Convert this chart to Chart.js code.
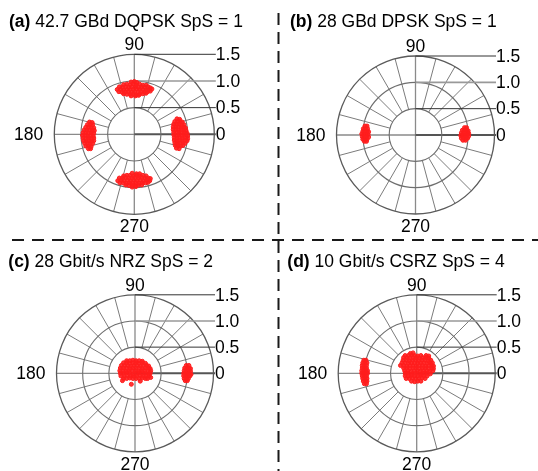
<!DOCTYPE html>
<html>
<head>
<meta charset="utf-8">
<script src="https://cdn.jsdelivr.net/npm/chart.js@4.4.1/dist/chart.umd.min.js"></script>
<style>
  body { margin: 0; background: #fff; }
  #wrap { position: relative; width: 538px; height: 471px; overflow: hidden; }
  #wrap svg, #wrap canvas { position: absolute; }
</style>
</head>
<body>
<div id="wrap">
  <svg width="538" height="471" style="left:0;top:0">
    <line x1="278.5" y1="13" x2="278.5" y2="471" stroke="#1a1a1a" stroke-width="2" stroke-dasharray="12 7"/>
    <line x1="12" y1="240" x2="538" y2="240" stroke="#1a1a1a" stroke-width="2" stroke-dasharray="12 8"/>
  </svg>
  <canvas id="pa" width="270" height="236" style="left:0;top:0"></canvas>
  <canvas id="pb" width="268" height="236" style="left:270px;top:0"></canvas>
  <canvas id="pc" width="270" height="235" style="left:0;top:236px"></canvas>
  <canvas id="pd" width="268" height="235" style="left:270px;top:236px"></canvas>
</div>
<script>
// panel labels
const tags = ['(a)', '(b)', '(c)', '(d)'];
const titles = ['42.7 GBd DQPSK SpS = 1', '28 GBd DPSK SpS = 1', '28 Gbit/s NRZ SpS = 2', '10 Gbit/s CSRZ SpS = 4'];

// polar axis ticks
const ringValues = [0.5, 1.0, 1.5];
const ringLabels = ['0.5', '1.0', '1.5'];
const angleLabels = ['0', '90', '180', '270'];

// received symbols, [I, Q] (amplitude units)
const dqpskTop = [
  [-0.06,0.98],[0.0,0.99],[0.05,0.97],
  [-0.20,0.93],[-0.14,0.94],[-0.08,0.93],[-0.02,0.95],[0.04,0.93],[0.10,0.94],[0.16,0.92],[0.22,0.92],
  [-0.28,0.89],[-0.22,0.88],[-0.16,0.89],[-0.10,0.88],[-0.04,0.89],[0.02,0.89],[0.08,0.88],[0.14,0.89],[0.20,0.88],[0.26,0.89],[0.30,0.87],
  [-0.32,0.84],[-0.26,0.84],[-0.20,0.83],[-0.14,0.84],[-0.08,0.84],[-0.02,0.84],[0.04,0.85],[0.10,0.84],[0.16,0.84],[0.22,0.83],[0.28,0.84],[0.33,0.85],
  [-0.29,0.80],[-0.23,0.79],[-0.17,0.79],[-0.11,0.80],[-0.05,0.79],[0.01,0.80],[0.07,0.79],[0.13,0.80],[0.19,0.79],[0.25,0.80],[0.30,0.81],
  [-0.20,0.76],[-0.14,0.75],[-0.08,0.75],[-0.02,0.75],[0.04,0.74],[0.10,0.75],[0.16,0.76],[0.22,0.77],
  [-0.06,0.72],[0.02,0.72],[0.08,0.73]
];
const dqpskBottom = [
  [-0.04,-0.73],[0.04,-0.74],[0.10,-0.74],
  [-0.20,-0.78],[-0.14,-0.77],[-0.08,-0.77],[-0.02,-0.78],[0.04,-0.77],[0.10,-0.78],[0.16,-0.77],[0.22,-0.78],
  [-0.28,-0.82],[-0.22,-0.82],[-0.16,-0.81],[-0.10,-0.82],[-0.04,-0.82],[0.02,-0.81],[0.08,-0.82],[0.14,-0.81],[0.20,-0.82],[0.26,-0.82],[0.30,-0.83],
  [-0.31,-0.87],[-0.25,-0.86],[-0.19,-0.87],[-0.13,-0.86],[-0.07,-0.87],[-0.01,-0.86],[0.05,-0.87],[0.11,-0.86],[0.17,-0.87],[0.23,-0.86],[0.29,-0.87],
  [-0.27,-0.91],[-0.21,-0.91],[-0.15,-0.92],[-0.09,-0.91],[-0.03,-0.92],[0.03,-0.91],[0.09,-0.92],[0.15,-0.91],[0.21,-0.91],[0.26,-0.90],
  [-0.16,-0.95],[-0.10,-0.96],[-0.04,-0.95],[0.02,-0.96],[0.08,-0.95],[0.14,-0.95],
  [-0.04,-0.99],[0.03,-0.98]
];
const dqpskRight = [
  [0.80,0.29],[0.85,0.28],
  [0.76,0.24],[0.81,0.24],[0.86,0.24],[0.90,0.23],
  [0.74,0.19],[0.79,0.19],[0.84,0.19],[0.89,0.18],[0.93,0.18],
  [0.73,0.14],[0.78,0.14],[0.83,0.14],[0.88,0.13],[0.93,0.13],[0.96,0.12],
  [0.73,0.09],[0.78,0.09],[0.83,0.08],[0.88,0.09],[0.93,0.08],[0.97,0.07],
  [0.74,0.04],[0.79,0.03],[0.84,0.04],[0.89,0.03],[0.94,0.04],[0.99,0.02],
  [0.74,-0.01],[0.79,-0.02],[0.84,-0.01],[0.89,-0.02],[0.94,-0.01],[1.00,-0.03],
  [0.75,-0.06],[0.80,-0.07],[0.85,-0.06],[0.90,-0.07],[0.95,-0.06],[1.00,-0.08],
  [0.75,-0.11],[0.80,-0.12],[0.85,-0.11],[0.90,-0.12],[0.95,-0.11],[0.99,-0.12],
  [0.76,-0.16],[0.81,-0.17],[0.86,-0.16],[0.91,-0.16],[0.95,-0.17],
  [0.77,-0.21],[0.82,-0.21],[0.87,-0.22],[0.91,-0.21],
  [0.79,-0.26],[0.84,-0.27]
];
const dqpskLeft = [
  [-0.84,0.23],[-0.79,0.22],
  [-0.88,0.18],[-0.83,0.18],[-0.78,0.18],
  [-0.91,0.13],[-0.86,0.13],[-0.81,0.13],[-0.76,0.12],
  [-0.94,0.08],[-0.89,0.08],[-0.84,0.08],[-0.79,0.07],[-0.75,0.07],
  [-0.96,0.03],[-0.91,0.03],[-0.86,0.02],[-0.81,0.03],[-0.76,0.02],
  [-0.97,-0.02],[-0.92,-0.02],[-0.87,-0.03],[-0.82,-0.02],[-0.77,-0.03],
  [-0.96,-0.07],[-0.91,-0.08],[-0.86,-0.07],[-0.81,-0.08],[-0.76,-0.07],
  [-0.95,-0.12],[-0.90,-0.13],[-0.85,-0.12],[-0.80,-0.13],[-0.76,-0.12],
  [-0.93,-0.17],[-0.88,-0.17],[-0.83,-0.18],[-0.78,-0.17],
  [-0.91,-0.22],[-0.86,-0.22],[-0.81,-0.23],
  [-0.86,-0.27],[-0.82,-0.27]
];

const dpskLeft = [
  [-0.96,0.17],[-0.92,0.17],
  [-0.99,0.12],[-0.95,0.12],[-0.91,0.12],
  [-1.00,0.07],[-0.96,0.07],[-0.92,0.07],[-0.89,0.06],
  [-1.02,0.02],[-0.98,0.02],[-0.94,0.02],[-0.90,0.01],
  [-1.01,-0.03],[-0.97,-0.03],[-0.93,-0.03],[-0.89,-0.04],
  [-1.00,-0.08],[-0.96,-0.08],[-0.92,-0.08],
  [-0.97,-0.12],[-0.93,-0.12]
];
const dpskRight = [
  [0.93,0.14],[0.97,0.14],
  [0.89,0.09],[0.93,0.10],[0.97,0.09],[1.00,0.08],
  [0.87,0.04],[0.91,0.05],[0.95,0.04],[0.99,0.04],[1.01,0.03],
  [0.86,-0.01],[0.90,0.00],[0.94,-0.01],[0.98,0.00],[1.01,-0.02],
  [0.87,-0.06],[0.91,-0.05],[0.95,-0.06],[0.99,-0.06],
  [0.90,-0.10],[0.95,-0.10]
];

const nrzZero = [
  [-0.16,0.24],[-0.10,0.24],[-0.04,0.25],[0.02,0.24],[0.08,0.24],[0.14,0.23],
  [-0.22,0.20],[-0.16,0.20],[-0.10,0.19],[-0.04,0.20],[0.02,0.20],[0.08,0.19],[0.14,0.20],[0.20,0.19],
  [-0.26,0.15],[-0.20,0.15],[-0.14,0.15],[-0.08,0.14],[-0.02,0.15],[0.04,0.15],[0.10,0.14],[0.16,0.15],[0.22,0.15],[0.26,0.14],
  [-0.28,0.10],[-0.22,0.10],[-0.16,0.10],[-0.10,0.09],[-0.04,0.10],[0.02,0.10],[0.08,0.10],[0.14,0.09],[0.20,0.10],[0.26,0.10],[0.29,0.09],
  [-0.29,0.05],[-0.23,0.05],[-0.17,0.04],[-0.11,0.05],[-0.05,0.05],[0.01,0.05],[0.07,0.04],[0.13,0.05],[0.19,0.05],[0.25,0.05],[0.30,0.05],
  [-0.28,0.00],[-0.22,0.00],[-0.16,0.01],[-0.10,0.00],[-0.04,-0.01],[0.02,0.00],[0.08,0.01],[0.14,0.00],[0.20,0.00],[0.26,-0.01],[0.29,0.00],
  [-0.27,-0.05],[-0.21,-0.05],[-0.15,-0.04],[-0.09,-0.05],[-0.03,-0.05],[0.03,-0.05],[0.09,-0.04],[0.15,-0.05],[0.21,-0.05],[0.27,-0.05],
  [-0.22,-0.10],[-0.16,-0.10],[-0.10,-0.09],[-0.04,-0.10],[0.02,-0.10],[0.08,-0.10],[0.14,-0.09],[0.20,-0.10],[0.24,-0.10],
  [-0.24,-0.14],[-0.07,-0.21],[0.10,-0.15],[0.30,-0.08]
];
const nrzOne = [
  [0.98,0.15],[1.03,0.15],
  [0.95,0.10],[0.99,0.10],[1.03,0.10],[1.06,0.09],
  [0.94,0.05],[0.98,0.05],[1.02,0.05],[1.06,0.04],
  [0.93,0.00],[0.97,0.00],[1.01,-0.01],[1.05,0.00],[1.07,-0.02],
  [0.93,-0.05],[0.97,-0.05],[1.01,-0.06],[1.05,-0.05],
  [0.94,-0.10],[0.98,-0.10],[1.02,-0.10],
  [0.96,-0.14],[1.00,-0.14]
];

const csrzLeft = [
  [-1.01,0.25],[-0.97,0.25],
  [-1.03,0.20],[-0.99,0.20],[-0.95,0.20],
  [-1.04,0.15],[-1.00,0.15],[-0.96,0.15],
  [-1.04,0.10],[-1.00,0.10],[-0.96,0.10],
  [-1.05,0.05],[-1.01,0.05],[-0.97,0.05],[-0.94,0.05],
  [-1.05,0.00],[-1.01,0.00],[-0.97,0.00],[-0.94,0.00],
  [-1.04,-0.05],[-1.00,-0.05],[-0.96,-0.05],
  [-1.03,-0.10],[-0.99,-0.10],[-0.95,-0.10],
  [-1.02,-0.15],[-0.98,-0.15],[-0.95,-0.15],
  [-1.00,-0.20],[-0.96,-0.20]
];
const csrzZero = [
  [-0.12,0.38],[-0.07,0.39],
  [-0.22,0.34],[-0.16,0.34],[-0.10,0.35],[-0.04,0.34],[0.02,0.33],[0.08,0.34],[0.18,0.34],[0.23,0.33],
  [-0.25,0.30],[-0.19,0.30],[-0.13,0.29],[-0.07,0.30],[-0.01,0.30],[0.05,0.29],[0.11,0.30],[0.17,0.30],[0.23,0.29],
  [-0.26,0.25],[-0.20,0.25],[-0.14,0.24],[-0.08,0.25],[-0.02,0.25],[0.04,0.24],[0.10,0.25],[0.16,0.25],[0.22,0.24],[0.27,0.25],
  [-0.28,0.20],[-0.22,0.20],[-0.16,0.19],[-0.10,0.20],[-0.04,0.20],[0.02,0.19],[0.08,0.20],[0.14,0.20],[0.20,0.19],[0.26,0.20],[0.30,0.20],
  [-0.31,0.15],[-0.25,0.15],[-0.19,0.14],[-0.13,0.15],[-0.07,0.15],[-0.01,0.14],[0.05,0.15],[0.11,0.15],[0.17,0.14],[0.23,0.15],[0.29,0.15],[0.32,0.14],
  [-0.25,0.10],[-0.19,0.10],[-0.13,0.09],[-0.07,0.10],[-0.01,0.10],[0.05,0.09],[0.11,0.10],[0.17,0.10],[0.23,0.09],[0.29,0.10],[0.32,0.09],
  [-0.23,0.05],[-0.17,0.05],[-0.11,0.04],[-0.05,0.05],[0.01,0.05],[0.07,0.04],[0.13,0.05],[0.19,0.05],[0.25,0.04],[0.31,0.05],
  [-0.22,0.00],[-0.16,0.00],[-0.10,-0.01],[-0.04,0.00],[0.02,0.00],[0.08,-0.01],[0.14,0.00],[0.20,0.00],[0.26,-0.01],
  [-0.22,-0.05],[-0.16,-0.05],[-0.10,-0.04],[-0.04,-0.05],[0.02,-0.05],[0.08,-0.04],[0.14,-0.05],[0.20,-0.05],
  [-0.20,-0.10],[-0.14,-0.10],[-0.08,-0.09],[-0.02,-0.10],[0.04,-0.10],[0.10,-0.09],[0.16,-0.10],
  [-0.10,-0.15],[-0.04,-0.16],[0.02,-0.15],[0.08,-0.15]
];

// draws the polar frame (rings, spokes, radial ticks, angle labels, panel title)
const polarFrame = {
  id: 'polarFrame',
  beforeDatasetsDraw(chart, args, opts) {
    const ctx = chart.ctx;
    const xs = chart.scales.x, ys = chart.scales.y;
    const cx = xs.getPixelForValue(0), cy = ys.getPixelForValue(0);
    const u = xs.getPixelForValue(1) - cx;
    const rMax = ringValues[ringValues.length - 1];
    const rMin = ringValues[0];
    const labX = cx + rMax * u + 1.5;

    ctx.save();
    // spokes every 15 deg between inner and outer ring
    ctx.strokeStyle = '#7b7b7b';
    ctx.lineWidth = 1;
    for (let a = 0; a < 360; a += 15) {
      if (a % 90 === 0) continue;
      const t = a * Math.PI / 180;
      ctx.beginPath();
      ctx.moveTo(cx + rMin * u * Math.cos(t), cy - rMin * u * Math.sin(t));
      ctx.lineTo(cx + rMax * u * Math.cos(t), cy - rMax * u * Math.sin(t));
      ctx.stroke();
    }
    // main axes
    ctx.strokeStyle = '#8a8a8a';
    ctx.lineWidth = 1.3;
    ctx.beginPath();
    ctx.moveTo(cx, cy - rMax * u); ctx.lineTo(cx, cy + rMax * u);
    ctx.moveTo(cx - rMax * u, cy); ctx.lineTo(cx, cy);
    ctx.stroke();
    ctx.strokeStyle = '#555';
    ctx.lineWidth = 2;
    ctx.beginPath();
    ctx.moveTo(cx, cy); ctx.lineTo(labX, cy);
    ctx.stroke();
    // rings
    ringValues.forEach(r => {
      ctx.strokeStyle = r === rMax ? '#5a5a5a' : '#6e6e6e';
      ctx.lineWidth = r === rMax ? 1.3 : 1.1;
      ctx.beginPath();
      ctx.arc(cx, cy, r * u, 0, Math.PI * 2);
      ctx.stroke();
    });
    // radial tick leaders
    ringValues.forEach(r => {
      ctx.strokeStyle = r === 1.0 ? '#999' : '#333';
      ctx.lineWidth = r === 1.0 ? 1.6 : 1;
      ctx.beginPath();
      ctx.moveTo(cx, cy - r * u);
      ctx.lineTo(labX, cy - r * u);
      ctx.stroke();
    });

    ctx.fillStyle = '#000';
    ctx.font = '17.5px "Liberation Sans", Arial, sans-serif';
    ctx.textBaseline = 'middle';
    ctx.textAlign = 'left';
    ringValues.forEach((r, i) => ctx.fillText(ringLabels[i], labX, cy - r * u + 1));
    ctx.fillText(angleLabels[0], labX, cy + 1);
    ctx.textAlign = 'center';
    ctx.fillText(angleLabels[1], cx, cy - rMax * u - 9);
    ctx.fillText(angleLabels[3], cx, cy + rMax * u + 13);
    ctx.textAlign = 'right';
    ctx.fillText(angleLabels[2], cx - rMax * u - 11, cy + 1);

    // title
    ctx.textAlign = 'left';
    ctx.textBaseline = 'alphabetic';
    ctx.font = 'bold 17.5px "Liberation Sans", Arial, sans-serif';
    ctx.fillText(opts.tag, opts.tx, opts.ty);
    const w = ctx.measureText(opts.tag + ' ').width;
    ctx.font = '17.5px "Liberation Sans", Arial, sans-serif';
    ctx.fillText(opts.text, opts.tx + w, opts.ty);
    ctx.restore();
  }
};

function renderPanel(id, pts, i, cx, cy, R, tx, ty) {
  const cv = document.getElementById(id);
  const W = cv.width, H = cv.height;
  return new Chart(cv, {
    type: 'scatter',
    data: {
      datasets: [{
        data: pts.map(p => ({x: p[0], y: p[1]})),
        pointRadius: 2,
        pointBorderWidth: 1,
        borderColor: '#ff1c1c',
        backgroundColor: 'rgba(255,30,30,0.9)'
      }]
    },
    options: {
      responsive: false,
      animation: false,
      events: [],
      layout: { padding: { left: cx - R, right: W - cx - R, top: cy - R, bottom: H - cy - R } },
      scales: {
        x: { type: 'linear', min: -1.5, max: 1.5, display: false },
        y: { type: 'linear', min: -1.5, max: 1.5, display: false }
      },
      plugins: {
        legend: { display: false },
        tooltip: { enabled: false },
        polarFrame: { tag: tags[i], text: titles[i], tx: tx, ty: ty }
      }
    },
    plugins: [polarFrame]
  });
}

renderPanel('pa', [].concat(dqpskTop, dqpskBottom, dqpskRight, dqpskLeft), 0, 134.3, 134.3, 80, 9, 26.7);
renderPanel('pb', [].concat(dpskLeft, dpskRight), 1, 145.5, 135, 79, 20, 26.7);
renderPanel('pc', [].concat(nrzZero, nrzOne), 2, 135, 137.3, 78.5, 8.3, 30.7);
renderPanel('pd', [].concat(csrzLeft, csrzZero), 3, 146.7, 137.3, 78.5, 17.3, 30.7);
</script>
</body>
</html>
